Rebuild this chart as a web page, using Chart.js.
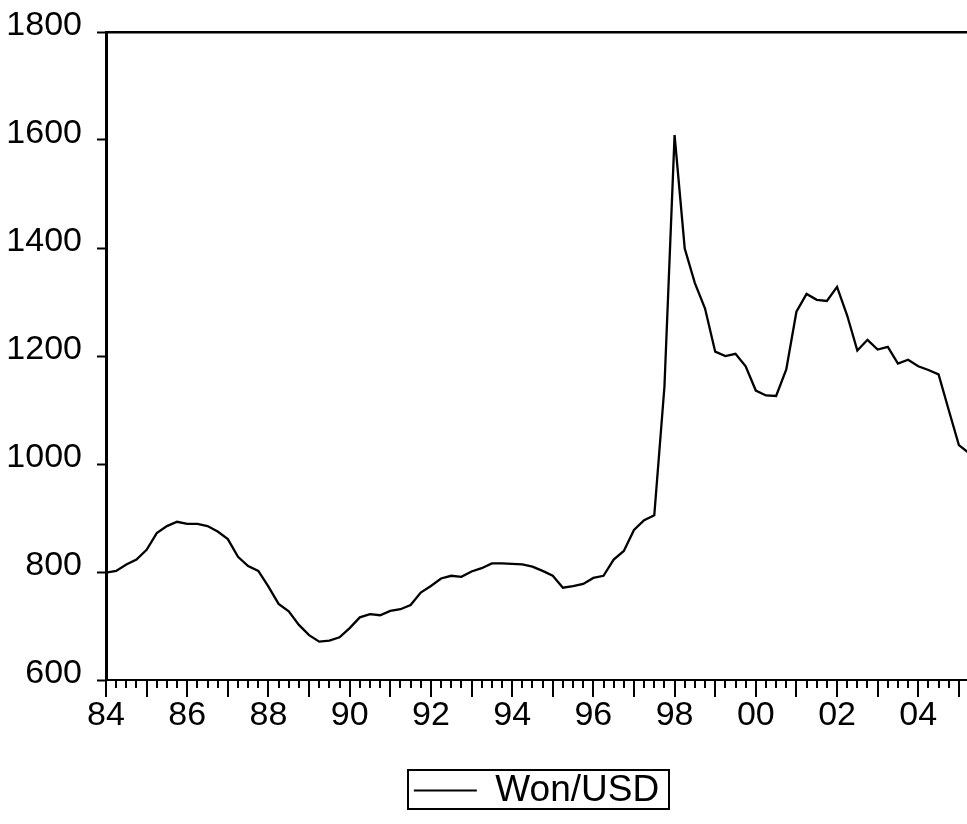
<!DOCTYPE html>
<html>
<head>
<meta charset="utf-8">
<title>Won/USD</title>
<script src="https://cdn.jsdelivr.net/npm/chart.js@4"></script>
<style>
  html, body { margin: 0; padding: 0; background: #fff; }
  #wrap { width: 967px; height: 824px; position: relative; }
</style>
</head>
<body>
<div id="wrap"><canvas id="c"></canvas></div>
<script>
// Quarterly Won/USD exchange rate, 1984Q1 onwards
const startYear = 1984;
const wonUsd = [
  799, 802, 814, 823, 841, 872, 885, 893,
  889, 889, 885, 875, 861, 828, 811, 802,
  773, 741, 727, 702, 683, 671, 673, 679,
  696, 716, 722, 720, 728, 731, 739, 762,
  774, 788, 793, 791, 801, 807, 816, 816,
  815, 814, 810, 802, 793, 771, 774, 778,
  789, 793, 823, 839, 878, 896, 905, 1143,
  1609, 1399, 1335, 1288, 1208, 1200, 1204, 1181,
  1136, 1127, 1126, 1175, 1282, 1315, 1304, 1302,
  1328, 1275, 1210, 1230, 1212, 1217, 1186, 1193,
  1181, 1174, 1166, 1100, 1035, 1020
];
// Period names, e.g. "1984Q1"
const periods = wonUsd.map((_, i) => (startYear + Math.floor(i / 4)) + 'Q' + (i % 4 + 1));
const yearLabels = ['84', '86', '88', '90', '92', '94', '96', '98', '00', '02', '04'];
const yTicks = [600, 800, 1000, 1200, 1400, 1600, 1800];

const points = periods.map((p, i) => ({
  x: Number(p.slice(0, 4)) + (Number(p.slice(5)) - 1) / 4,
  y: wonUsd[i]
}));

const X_MIN = 1984;
const X_MAX = 2005.2;
const FONT = "'Liberation Sans', Arial, Helvetica, sans-serif";

// Quarter tick marks (long ones at year starts) and the frame around the legend
const axisMarks = {
  id: 'axisMarks',
  afterDraw(chart) {
    const ctx = chart.ctx;
    const xs = chart.scales.x;
    const y0 = chart.chartArea.bottom;
    ctx.save();
    ctx.strokeStyle = '#000';
    ctx.lineWidth = 2;
    xs.ticks.forEach(t => {
      const px = Math.round(xs.getPixelForValue(t.value));
      const len = Number.isInteger(t.value) ? 17 : 8;
      ctx.beginPath();
      ctx.moveTo(px, y0);
      ctx.lineTo(px, y0 + len);
      ctx.stroke();
    });
    const hb = chart.legend && chart.legend.legendHitBoxes && chart.legend.legendHitBoxes[0];
    if (hb) {
      ctx.lineWidth = 2;
      const l = Math.round(hb.left - 6), t = Math.round(hb.top - 2);
      const r = Math.round(hb.left + hb.width + 10), b = Math.round(hb.top + hb.height);
      ctx.strokeRect(l, t, r - l, b - t);
    }
    ctx.restore();
  }
};

Chart.defaults.font.family = FONT;
Chart.defaults.color = '#000';

new Chart(document.getElementById('c'), {
  type: 'line',
  data: {
    datasets: [{
      label: 'Won/USD',
      data: points,
      borderColor: '#000',
      backgroundColor: '#000',
      borderWidth: 2.3,
      pointRadius: 0,
      tension: 0,
      fill: false
    }]
  },
  options: {
    responsive: true,
    maintainAspectRatio: false,
    animation: false,
    events: [],
    layout: { autoPadding: false, padding: { top: 32, right: 0, bottom: 5, left: 0 } },
    scales: {
      x: {
        type: 'linear',
        position: 'bottom',
        min: X_MIN,
        max: X_MAX,
        afterBuildTicks(scale) {
          const t = [];
          for (let v = X_MIN; v <= X_MAX; v += 0.25) t.push({ value: v });
          scale.ticks = t;
        },
        afterFit(scale) {
          scale.height = 75;
          scale.paddingLeft = 0;
          scale.paddingRight = 0;
        },
        ticks: {
          autoSkip: false,
          maxRotation: 0,
          minRotation: 0,
          padding: 15,
          font: { size: 34 },
          color: '#000',
          callback(value) {
            if (!Number.isInteger(value)) return '';
            const lab = String(value % 100).padStart(2, '0');
            return yearLabels.includes(lab) ? lab : '';
          }
        },
        grid: { display: true, drawOnChartArea: false, drawTicks: false, color: '#000' },
        border: { display: true, color: '#000', width: 2 }
      },
      xTop: {
        type: 'linear',
        position: 'top',
        min: X_MIN,
        max: X_MAX,
        afterFit(scale) {
          scale.height = 0;
          scale.paddingLeft = 0;
          scale.paddingRight = 0;
        },
        ticks: { display: false },
        grid: { display: false, drawTicks: false },
        border: { display: true, color: '#000', width: 2.5 }
      },
      y: {
        min: 600,
        max: 1800,
        afterBuildTicks(scale) { scale.ticks = yTicks.map(v => ({ value: v })); },
        afterFit(scale) {
          scale.width = 106;
          scale.paddingTop = 0;
          scale.paddingBottom = 0;
        },
        ticks: {
          padding: 15,
          labelOffset: -6,
          font: { size: 34 },
          color: '#000',
          callback: v => String(v)
        },
        grid: { display: true, drawOnChartArea: false, drawTicks: true, tickLength: 9, tickWidth: 2, tickColor: '#000' },
        border: { display: true, color: '#000', width: 3 }
      }
    },
    plugins: {
      tooltip: { enabled: false },
      legend: {
        display: true,
        position: 'bottom',
        fullSize: false,
        labels: {
          boxWidth: 63,
          boxHeight: 2,
          padding: 17,
          color: '#000',
          font: { size: 37 },
          generateLabels(chart) {
            const items = Chart.defaults.plugins.legend.labels.generateLabels(chart);
            items.forEach(it => { it.lineWidth = 0; it.fillStyle = '#000'; });
            return items;
          }
        }
      }
    }
  },
  plugins: [axisMarks]
});
</script>
</body>
</html>
